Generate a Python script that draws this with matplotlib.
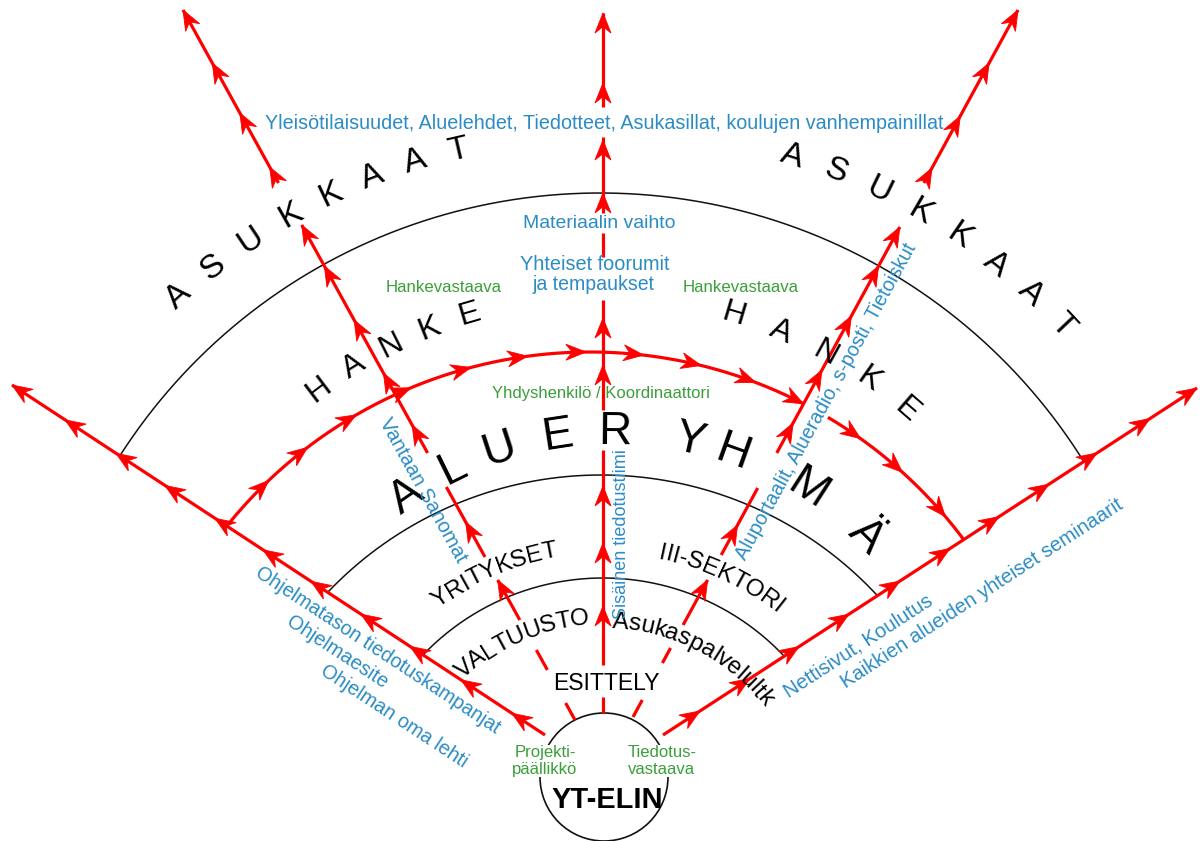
import math
import numpy as np
import matplotlib
matplotlib.use('Agg')
import matplotlib.pyplot as plt
from matplotlib.patches import Polygon, Circle

# ---------------- data (pixel geometry of the diagram) ----------------
YT_CIRCLE = (604, 777, 64)                       # cx, cy, r
LEFT_MAIN = [(545, 735), (12, 385)]
RIGHT_MAIN = [(663, 735), (1197, 388)]
LEFT_MAIN_ARROWS_X = [12, 65, 116, 165, 215, 263, 311, 361, 410, 461, 512]
RIGHT_MAIN_ARROWS_X = [1197, 1150, 1097, 1049, 999, 950, 900, 849, 799, 750, 700]

LEFT_INNER = [(575, 720), (183, 10)]
LEFT_INNER_SEGS_Y = [(720, 703), (670, 650), (620, 580), (557, 487), (453, 225), (183, 10)]
LEFT_INNER_ARROWS_Y = [580, 522, 425, 373, 320, 266, 225, 167, 113, 63, 10]
RIGHT_INNER = [(633, 717), (1018, 10)]
RIGHT_INNER_SEGS_Y = [(717, 700), (663, 648), (625, 580), (555, 488), (453, 227), (183, 10)]
RIGHT_INNER_ARROWS_Y = [580, 525, 423, 370, 316, 266, 227, 168, 116, 63, 10]

CENTER_X = 603
CENTER_SEGS_Y = [(713, 697), (665, 450), (410, 300), (257, 233), (213, 137), (107, 13)]
CENTER_ARROWS_Y = [606, 543, 486, 365, 318, 193, 140, 83, 13]

BLACK_ARCS = [(603, 827, 249), (601, 852, 377), (600, 763, 570)]   # cx, cy, R
RED_ARC = (590, 818, 466)
RED_ARC_RESUME_DEG = 59.3
RED_ARC_ARROWS_DEG = [133.6, 127.3, 120.1, 112.6, 104.8, 97.7, 90.5, 83.4,
                      76.2, 69.2, 54.5, 47.9, 40.3]

# curved words: text, cx, cy, r, first-letter angle, last-letter angle, size
ARC_WORDS = [
    ("ASUKKAAT", 600, 763, 629, 132.1, 103.0, 24),
    ("ASUKKAAT", 600, 763, 637, 72.4, 43.4, 24),
    ("HANKE", 600, 763, 467, 127.0, 106.3, 23),
    ("HANKE", 600, 763, 468, 73.4, 49.0, 23),
    ("YRITYKSET", 603, 830, 283, 125.0, 100.8, 17.5),
    ("III-SEKTORI", 603, 830, 283, 77.8, 51.8, 17.5),
    ("VALTUUSTO", 603, 830, 212, 130.7, 96.3, 17.5),
    ("Asukaspalvelultk", 603, 830, 208, 85.3, 39.0, 17.5),
]
ALUERYHMA = "ALUERYHMÄ"
ALUERYHMA_ARC = (612, 793, 361)
ALUERYHMA_DEG = [124.7, 116.2, 108.1, 98.7, 89.5, 77.6, 70.4, 57.2, 45.3]

# straight / rotated labels: text, x, y, target width, colour key, rotation
LABELS = [
    ("Yleisötilaisuudet, Aluelehdet, Tiedotteet, Asukasillat, koulujen vanhempainillat",
     604, 123, 678, 'blue', 0),
    ("Materiaalin vaihto", 599, 223, 153, 'blue', 0),
    ("Yhteiset foorumit", 595, 265, 150, 'blue', 0),
    ("ja tempaukset", 594, 284, 122, 'blue', 0),
    ("Hankevastaava", 444, 288, 116, 'green', 0),
    ("Hankevastaava", 741, 288, 116, 'green', 0),
    ("Yhdyshenkilö / Koordinaattori", 601, 393, 217, 'green', 0),
    ("Sisäinen tiedotustiimi", 621, 534, 170, 'blue', 90),
    ("Vantaan Sanomat", 423, 490, 162, 'blue', -61.1),
    ("Aluportaalit, Alueradio, s-posti, Tietoiskut", 826, 402, 356, 'blue', 61.4),
    ("Ohjelmatason tiedotuskampanjat", 378, 650, 288, 'blue', -33.3),
    ("Ohjelmaesite", 337, 652, 117, 'blue', -33.3),
    ("Ohjelman oma lehti", 394, 716, 172, 'blue', -33.3),
    ("Nettisivut, Koulutus", 858, 646, 174, 'blue', 33.0),
    ("Kaikkien alueiden yhteiset seminaarit", 982, 594, 333, 'blue', 33.0),
    ("ESITTELY", 606, 684, 107, 'black', 0),
]
YT_LABEL = ("YT-ELIN", 607, 800, 110)
CIRCLE_NOTES = [("Projekti-\npäällikkö", 545, 761), ("Tiedotus-\nvastaava", 662, 761)]

# ---------------- styling ----------------
FONT = ['Liberation Sans', 'DejaVu Sans']
RED = '#ff0000'
COLORS = {'blue': '#2b8cc4', 'green': '#3a9f3a', 'black': '#000000'}
RED_LW = 2.3
ARROW_L, ARROW_W, ARROW_NOTCH = 20, 8, 0.68

fig = plt.figure(figsize=(12, 8.41), dpi=100)
ax = fig.add_axes([0, 0, 1, 1])
ax.set_xlim(0, 1200)
ax.set_ylim(841, 0)
ax.axis('off')
renderer = fig.canvas.get_renderer()


def text_width(s, size, weight='normal'):
    t = ax.text(0, 0, s, fontsize=size, family=FONT, weight=weight)
    w = t.get_window_extent(renderer=renderer).width
    t.remove()
    return w


def unit(line):
    (x0, y0), (x1, y1) = line
    L = math.hypot(x1 - x0, y1 - y0)
    return (x1 - x0) / L, (y1 - y0) / L


def x_at_y(line, y):
    (x0, y0), (x1, y1) = line
    return x0 + (x1 - x0) * (y - y0) / (y1 - y0)


def y_at_x(line, x):
    (x0, y0), (x1, y1) = line
    return y0 + (y1 - y0) * (x - x0) / (x1 - x0)


def arrowhead(tip, d):
    tx, ty = tip
    dx, dy = d
    nx, ny = -dy, dx
    pts = [(tx, ty),
           (tx - ARROW_L * dx + ARROW_W * nx, ty - ARROW_L * dy + ARROW_W * ny),
           (tx - ARROW_NOTCH * ARROW_L * dx, ty - ARROW_NOTCH * ARROW_L * dy),
           (tx - ARROW_L * dx - ARROW_W * nx, ty - ARROW_L * dy - ARROW_W * ny)]
    ax.add_patch(Polygon(pts, closed=True, fc=RED, ec=RED, lw=0.6, zorder=3))


def circle_line_theta(circ, line):
    cx, cy, R = circ
    (x0, y0), (x1, y1) = line
    dx, dy = x1 - x0, y1 - y0
    fx, fy = x0 - cx, y0 - cy
    a = dx * dx + dy * dy
    b = 2 * (fx * dx + fy * dy)
    c = fx * fx + fy * fy - R * R
    disc = math.sqrt(b * b - 4 * a * c)
    for t in ((-b + disc) / (2 * a), (-b - disc) / (2 * a)):
        if 0 <= t <= 1:
            x, y = x0 + t * dx, y0 + t * dy
            return math.degrees(math.atan2(cy - y, x - cx))
    return None


def arc_pt(circ, th):
    cx, cy, R = circ
    r = math.radians(th)
    return cx + R * math.cos(r), cy - R * math.sin(r)


def draw_arc(circ, th1, th2, **kw):
    th = np.linspace(th1, th2, 300)
    cx, cy, R = circ
    xs = cx + R * np.cos(np.radians(th))
    ys = cy - R * np.sin(np.radians(th))
    ax.plot(xs, ys, solid_capstyle='butt', **kw)


# ---------------- black arcs ----------------
for circ in BLACK_ARCS:
    t1 = circle_line_theta(circ, LEFT_MAIN)
    t2 = circle_line_theta(circ, RIGHT_MAIN)
    draw_arc(circ, t1, t2, color='#111111', lw=1.1, zorder=1)

# YT circle
ax.add_patch(Circle(YT_CIRCLE[:2], YT_CIRCLE[2], fill=False, ec='#111111', lw=1.2, zorder=1))

# ---------------- main diagonals ----------------
for line, xs in ((LEFT_MAIN, LEFT_MAIN_ARROWS_X), (RIGHT_MAIN, RIGHT_MAIN_ARROWS_X)):
    ax.plot([line[0][0], line[1][0]], [line[0][1], line[1][1]], color=RED, lw=RED_LW,
            solid_capstyle='butt', zorder=2)
    d = unit(line)
    for x in xs:
        arrowhead((x, y_at_x(line, x)), d)

# ---------------- inner diagonals ----------------
for line, segs, arrows in ((LEFT_INNER, LEFT_INNER_SEGS_Y, LEFT_INNER_ARROWS_Y),
                           (RIGHT_INNER, RIGHT_INNER_SEGS_Y, RIGHT_INNER_ARROWS_Y)):
    for ya, yb in segs:
        ax.plot([x_at_y(line, ya), x_at_y(line, yb)], [ya, yb], color=RED, lw=RED_LW,
                solid_capstyle='butt', zorder=2)
    d = unit(line)
    for y in arrows:
        arrowhead((x_at_y(line, y), y), d)

# ---------------- centre line ----------------
for ya, yb in CENTER_SEGS_Y:
    ax.plot([CENTER_X, CENTER_X], [ya, yb], color=RED, lw=RED_LW, solid_capstyle='butt', zorder=2)
for y in CENTER_ARROWS_Y:
    arrowhead((CENTER_X, y), (0, -1))

# ---------------- red arc ----------------
th_left = circle_line_theta(RED_ARC, LEFT_MAIN)
th_junc = circle_line_theta(RED_ARC, RIGHT_INNER)
th_right = circle_line_theta(RED_ARC, RIGHT_MAIN)
draw_arc(RED_ARC, th_left, th_junc, color=RED, lw=RED_LW, zorder=2)
draw_arc(RED_ARC, RED_ARC_RESUME_DEG, th_right, color=RED, lw=RED_LW, zorder=2)
for th in RED_ARC_ARROWS_DEG + [th_junc]:
    r = math.radians(th)
    arrowhead(arc_pt(RED_ARC, th), (math.sin(r), math.cos(r)))

# ---------------- curved words ----------------
def place_letter(ch, circ, th, size):
    x, y = arc_pt(circ, th)
    ax.text(x, y, ch, fontsize=size, family=FONT, color='black', ha='center', va='center',
            rotation=th - 90, rotation_mode='anchor', zorder=4)


for word, cx, cy, r, th1, th2, size in ARC_WORDS:
    ws = [text_width(ch, size) for ch in word]
    n = len(word)
    arc_len = r * math.radians(th1 - th2)
    base = sum((ws[i] + ws[i + 1]) / 2 for i in range(n - 1))
    track = (arc_len - base) / (n - 1)
    cum = 0.0
    for i, ch in enumerate(word):
        place_letter(ch, (cx, cy, r), th1 - math.degrees(cum / r), size)
        if i < n - 1:
            cum += (ws[i] + ws[i + 1]) / 2 + track

for ch, th in zip(ALUERYHMA, ALUERYHMA_DEG):
    place_letter(ch, ALUERYHMA_ARC, th, 33)

# ---------------- labels ----------------
for s, x, y, w, ck, rot in LABELS:
    size = 10 * w / text_width(s, 10)
    ax.text(x, y, s, fontsize=size, family=FONT, color=COLORS[ck], ha='center', va='center',
            rotation=rot, rotation_mode='anchor', zorder=4)

s, x, y, w = YT_LABEL
size = 10 * w / text_width(s, 10, 'bold')
ax.text(x, y, s, fontsize=size, family=FONT, weight='bold', color='black',
        ha='center', va='center', zorder=4)

for s, x, y in CIRCLE_NOTES:
    ax.text(x, y, s, fontsize=12, family=FONT, color=COLORS['green'], ha='center', va='center',
            linespacing=1.1, zorder=4,
            bbox=dict(boxstyle='square,pad=0.05', fc='white', ec='none'))

fig.savefig('out.png', dpi=100, facecolor='white')
